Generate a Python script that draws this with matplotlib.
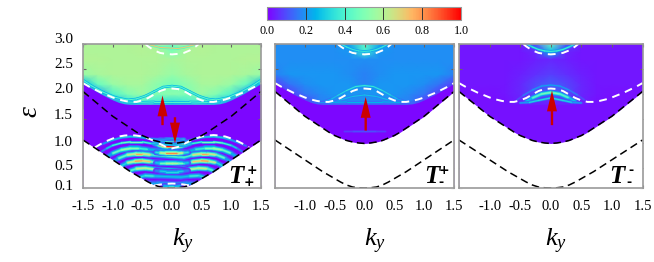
import numpy as np
import matplotlib
matplotlib.use('Agg')
import matplotlib.pyplot as plt
from matplotlib.collections import LineCollection
from matplotlib.cm import ScalarMappable
from matplotlib.colors import Normalize

plt.rcParams['font.family'] = ['Liberation Serif', 'DejaVu Serif']
plt.rcParams['mathtext.fontset'] = 'custom'
plt.rcParams['mathtext.it'] = 'Liberation Serif:italic'
plt.rcParams['mathtext.rm'] = 'Liberation Serif'

# all curves are read for ky >= 0 and mirrored
curve_k = [0, .1, .2, .3, .4, .5, .6, .7, .8, .9, 1.0, 1.1, 1.2, 1.3, 1.4, 1.5]
upper_edge = [1.0, 1.01, 1.03, 1.06, 1.11, 1.16, 1.23, 1.31, 1.39, 1.47, 1.55, 1.65, 1.75, 1.85, 1.95, 2.05]
lower_edge = [.10, .105, .12, .16, .22, .29, .36, .43, .51, .59, .67, .75, .83, .91, .99, 1.07]
gap_curve = [2.11, 2.10, 2.06, 1.99, 1.92, 1.87, 1.84, 1.84, 1.86, 1.89, 1.93, 1.98, 2.03, 2.09, 2.15, 2.22]
band_floor = [1.79, 1.79, 1.79, 1.79, 1.79, 1.79, 1.79, 1.79, 1.80, 1.83, 1.88, 1.94, 2.00, 2.07, 2.14, 2.21]

top_k = [0, .1, .2, .3, .4, .45]
top_curve = [2.80, 2.81, 2.83, 2.88, 2.96, 3.01]
inner_k = [0, .1, .2, .3, .4, .5, .6, .7, .8, .9, 1.0, 1.1, 1.2, 1.3]
inner_curve = [.90, .93, .99, 1.05, 1.10, 1.14, 1.16, 1.17, 1.16, 1.14, 1.10, 1.05, .99, .92]
bottom_k = [0, .1, .2, .3]
bottom_curve = [.19, .185, .17, .15]

# background colour values, rows are energies, columns are ky
bg_k = [0, .25, .5, .75, 1.0, 1.25, 1.5]
bg_eps = [1.7, 1.85, 2.0, 2.2, 2.4, 2.7, 2.85, 3.0]
bg_plus = [[.20, .20, .20, .20, .20, .15, .10],
           [.35, .38, .42, .35, .20, .15, .10],
           [.52, .50, .55, .50, .40, .20, .10],
           [.48, .52, .58, .58, .55, .45, .25],
           [.55, .58, .59, .59, .59, .58, .55],
           [.58, .59, .59, .59, .59, .60, .60],
           [.50, .59, .60, .59, .59, .59, .59],
           [.45, .58, .60, .59, .59, .59, .59]]
bg_mid = [[.10, .10, .10, .10, .08, .05, .03],
          [.18, .18, .18, .17, .08, .05, .03],
          [.20, .20, .20, .18, .15, .08, .04],
          [.17, .20, .20, .20, .19, .15, .08],
          [.17, .19, .20, .20, .20, .20, .17],
          [.19, .19, .19, .19, .19, .19, .19],
          [.38, .20, .19, .19, .19, .19, .19],
          [.44, .22, .19, .19, .19, .19, .19]]
bg_minus = [[.03, .03, .03, .02, .02, .02, .02],
            [.05, .05, .04, .02, .02, .02, .02],
            [.12, .10, .05, .03, .02, .02, .02],
            [.12, .09, .05, .03, .03, .03, .03],
            [.08, .06, .04, .03, .03, .03, .03],
            [.05, .04, .03, .03, .03, .03, .03],
            [.25, .05, .03, .03, .03, .03, .03],
            [.45, .12, .03, .03, .03, .03, .03]]

# broad fringes: ky, energy, colour value
fringes_plus = [
    ([.25, .4, .55, .7, .85, 1.0, 1.08], [.83, .88, .90, .90, .87, .80, .74], [.2, .3, .45, .55, .55, .35, .15]),
    ([.2, .35, .5, .6, .75, .9, .98], [.72, .77, .79, .79, .77, .70, .64], [.25, .55, .8, .75, .55, .35, .12]),
    ([.2, .35, .5, .62, .75, .85], [.58, .63, .65, .64, .61, .55], [.3, .6, .85, .75, .5, .15]),
    ([.2, .3, .45, .6, .7, .75], [.45, .48, .50, .49, .45, .41], [.3, .5, .7, .55, .3, .12]),
    ([.15, .3, .45, .55, .6], [.32, .34, .35, .32, .29], [.2, .35, .4, .25, .1]),
    ([.1, .25, .38, .45], [.19, .21, .21, .18], [.15, .25, .2, .1]),
    ([0, .1, .2], [1.06, 1.06, 1.07], [.55, .5, .25]),
    ([0, .08, .15, .22, .3], [.94, .94, .95, .97, 1.0], [1.0, .98, .85, .6, .35]),
    ([0, .1, .2, .27], [.80, .80, .81, .82], [.85, .8, .5, .2]),
    ([0, .1, .2, .27], [.60, .60, .60, .61], [.6, .55, .4, .2]),
    ([0, .1, .2, .27], [.43, .43, .44, .45], [.3, .35, .25, .1]),
    ([0, .06, .13], [.13, .13, .14], [.5, .4, .15]),
]
# thin lines
lines_plus = [
    ([.25, .4, .55, .7, .85, 1.0, 1.15, 1.25], [1.05, 1.10, 1.13, 1.14, 1.12, 1.07, 1.0, .95], [.15, .25, .3, .3, .3, .25, .2, .1]),
    ([.2, .35, .5, .7, .85, 1.0, 1.1, 1.18], [.95, 1.0, 1.03, 1.03, 1.01, .96, .90, .84], [.25, .35, .45, .5, .45, .35, .25, .1]),
    ([0, .15, .3, .45, .6, .75, .95, 1.15, 1.35, 1.5], [2.16, 2.14, 2.05, 1.96, 1.90, 1.88, 1.93, 2.03, 2.16, 2.28], [.42, .42, .42, .42, .42, .42, .42, .42, .42, .42]),
    ([0, .3, .6, .8], [1.84, 1.84, 1.83, 1.84], [.4, .42, .42, .35]),
    ([.1, .2, .3, .4], [2.92, 2.94, 2.97, 3.0], [.7, .7, .7, .7]),
]
lines_mid = [
    ([0, .15, .3, .45, .55, .7], [2.17, 2.15, 2.07, 1.97, 1.90, 1.84], [.36, .36, .34, .3, .26, .2]),
    ([0, .2, .4, .55], [1.98, 1.95, 1.88, 1.82], [.28, .28, .26, .2]),
    ([0, .3, .6, .75], [1.84, 1.84, 1.83, 1.83], [.25, .25, .25, .15]),
    ([0, .2, .35], [1.25, 1.25, 1.25], [.1, .1, .05]),
    ([0, .1, .2, .3, .38], [2.86, 2.87, 2.90, 2.95, 3.0], [.36, .36, .36, .36, .36]),
]
lines_minus = [
    ([0, .15, .3, .45, .55], [2.18, 2.16, 2.08, 1.97, 1.88], [.22, .22, .2, .13, .08]),
    ([0, .2, .35, .5], [1.92, 1.87, 1.83, 1.82], [.34, .32, .3, .12]),
    ([0, .1, .2, .3, .38], [2.86, 2.87, 2.90, 2.95, 3.0], [.38, .38, .38, .38, .3]),
]
fringes_minus = [
    ([0, .15, .3, .4], [2.03, 2.0, 1.92, 1.85], [.5, .45, .4, .15]),
]

y_ticks = [3.0, 2.5, 2.0, 1.5, 1.0, 0.5, 0.1]
y_labels = ['3.0', '2.5', '2.0', '1.5', '1.0', '0.5', '0.1']
x_ticks = [-1.5, -1.0, -0.5, 0.0, 0.5, 1.0, 1.5]
x_labels = ['-1.5', '-1.0', '-0.5', '0.0', '0.5', '1.0', '1.5']
cbar_ticks = [0.0, 0.2, 0.4, 0.6, 0.8, 1.0]

W, H = 654, 262
cmap = plt.get_cmap('rainbow')
norm = Normalize(0, 1)
GRAY = '#9a9a9a'
RED = '#cc0000'


def mirror(k, v):
    return list(-np.array(k[:0:-1])) + list(k), list(v[:0:-1]) + list(v)


def px_axes(x0, x1, y0, y1):
    return fig.add_axes([x0 / W, 1 - y1 / H, (x1 - x0) / W, (y1 - y0) / H])


def draw_band(ax, k, eps, val, layers):
    kk, ee = mirror(k, eps)
    kk, vv = mirror(k, val)
    pts = np.column_stack([kk, ee])
    segs = np.stack([pts[:-1], pts[1:]], axis=1)
    vv = np.array(vv)
    seg_v = (vv[:-1] + vv[1:]) / 2
    for width, scale in layers:
        lc = LineCollection(segs, cmap=cmap, norm=norm, linewidths=width, capstyle='round')
        lc.set_array(seg_v * scale)
        ax.add_collection(lc)


def draw_panel(ax, bg, fringes, lines, floor_val, edge, show_lower):
    k_full, _ = mirror(bg_k, bg_k)
    rows = [mirror(bg_k, r)[1] for r in bg]
    ax.pcolormesh(k_full, bg_eps, np.array(rows), cmap=cmap, norm=norm, shading='gouraud')
    fk, ff = mirror(curve_k, band_floor)
    ax.fill_between(fk, 0.1, ff, color=cmap(floor_val), lw=0)
    for k, e, v in fringes:
        draw_band(ax, k, e, v, [(4.2, .25), (3.0, .5), (1.8, .8), (.8, 1.0)])
    for k, e, v in lines:
        draw_band(ax, k, e, v, [(1.8, .6), (.8, 1.0)])

    ek, ee = mirror(curve_k, edge)
    ax.fill_between(ek, 0.0, ee, color='white', lw=0, zorder=3)

    wd = dict(color='white', lw=1.4, ls=(0, (4, 3)), zorder=4)
    ax.plot(*mirror(curve_k, gap_curve), **wd)
    ax.plot(*mirror(top_k, top_curve), **wd)
    if show_lower:
        ax.plot(*mirror(inner_k, inner_curve), **wd)
        ax.plot(*mirror(bottom_k, bottom_curve), **wd)

    bd = dict(color='black', lw=1.1, ls=(0, (5, 3)), zorder=5)
    ax.plot(*mirror(curve_k, upper_edge), **bd)
    ax.plot(*mirror(curve_k, lower_edge), **bd)

    ax.set_xlim(-1.5, 1.5)
    ax.set_ylim(0.1, 3.0)
    ax.set_yticks(y_ticks)
    ax.set_yticklabels([])
    ax.tick_params(direction='in', length=2.5, width=.8, color='#666666', top=True, right=True, pad=9, labelsize=10.5)
    for s in ax.spines.values():
        s.set_color(GRAY)
        s.set_linewidth(1.2)
        s.set_zorder(6)


def arrow(ax, x, y0, y1):
    ax.annotate('', xy=(x, y1), xytext=(x, y0), zorder=7,
                arrowprops=dict(width=1.7, headwidth=7.2, headlength=15, shrink=0, color=RED, lw=0))


def t_label(ax, x, xu, xd, up, down):
    ax.text(x, .035, 'T', transform=ax.transAxes, fontsize=18, fontweight='bold', fontstyle='italic',
            ha='center', va='baseline', zorder=8)
    ax.text(xu, .125, up, transform=ax.transAxes, fontsize=9, fontweight='bold', family='DejaVu Sans',
            ha='center', va='center', zorder=8)
    ax.text(xd, .04, down, transform=ax.transAxes, fontsize=9, fontweight='bold', family='DejaVu Sans',
            ha='center', va='center', zorder=8)


fig = plt.figure(figsize=(W / 100, H / 100), dpi=100)

ax1 = px_axes(83, 261, 44.5, 188)
ax2 = px_axes(275, 454, 44.5, 188)
ax3 = px_axes(459, 642.5, 44.5, 188)

draw_panel(ax1, bg_plus, fringes_plus, lines_plus, .01, lower_edge, True)
draw_panel(ax2, bg_mid, [], lines_mid, .01, upper_edge, False)
draw_panel(ax3, bg_minus, fringes_minus, lines_minus, .02, upper_edge, False)

ax1.set_xticks(x_ticks)
ax1.set_xticklabels(x_labels)
for ax in (ax2, ax3):
    ax.set_xticks(x_ticks)
    ax.set_xticklabels([''] + x_labels[1:])

# y labels sit a little above their ticks in the original
label_shift = [4.5, 5, 4.5, 3, 1, 2, 1.5]
for tick, lab, up in zip(y_ticks, y_labels, label_shift):
    ax1.annotate(lab, xy=(0, tick), xycoords=ax1.get_yaxis_transform(), xytext=(-7.2, up * .72),
                 textcoords='offset points', ha='right', va='center', fontsize=11, annotation_clip=False)

arrow(ax1, -.16, 1.37, 1.97)
arrow(ax1, .05, 1.53, 1.0)
arrow(ax2, .02, 1.26, 1.94)
arrow(ax3, .02, 1.37, 2.07)

t_label(ax1, .858, .95, .935, '+', '+')
t_label(ax2, .875, .945, .925, '+', '-')
t_label(ax3, .858, .935, .925, '-', '-')

fig.text(30 / W, 1 - 112 / H, 'ε', rotation=90, fontsize=20, fontstyle='italic', ha='center', va='center')
for x in (182.6, 375, 556):
    fig.text(x / W, 1 - 241 / H, '$k_y$', fontsize=19, ha='center', va='center')

cax = px_axes(267, 461, 7, 20)
cb = fig.colorbar(ScalarMappable(norm=norm, cmap=cmap), cax=cax, orientation='horizontal', ticks=cbar_ticks)
cb.ax.tick_params(direction='in', length=9.4, width=.7, color='#333333', pad=3.5, labelsize=8.7)
cb.ax.set_xticklabels(['%.1f' % t for t in cbar_ticks])
cb.outline.set_edgecolor(GRAY)
cb.outline.set_linewidth(.8)

fig.savefig('out.png', dpi=100)
